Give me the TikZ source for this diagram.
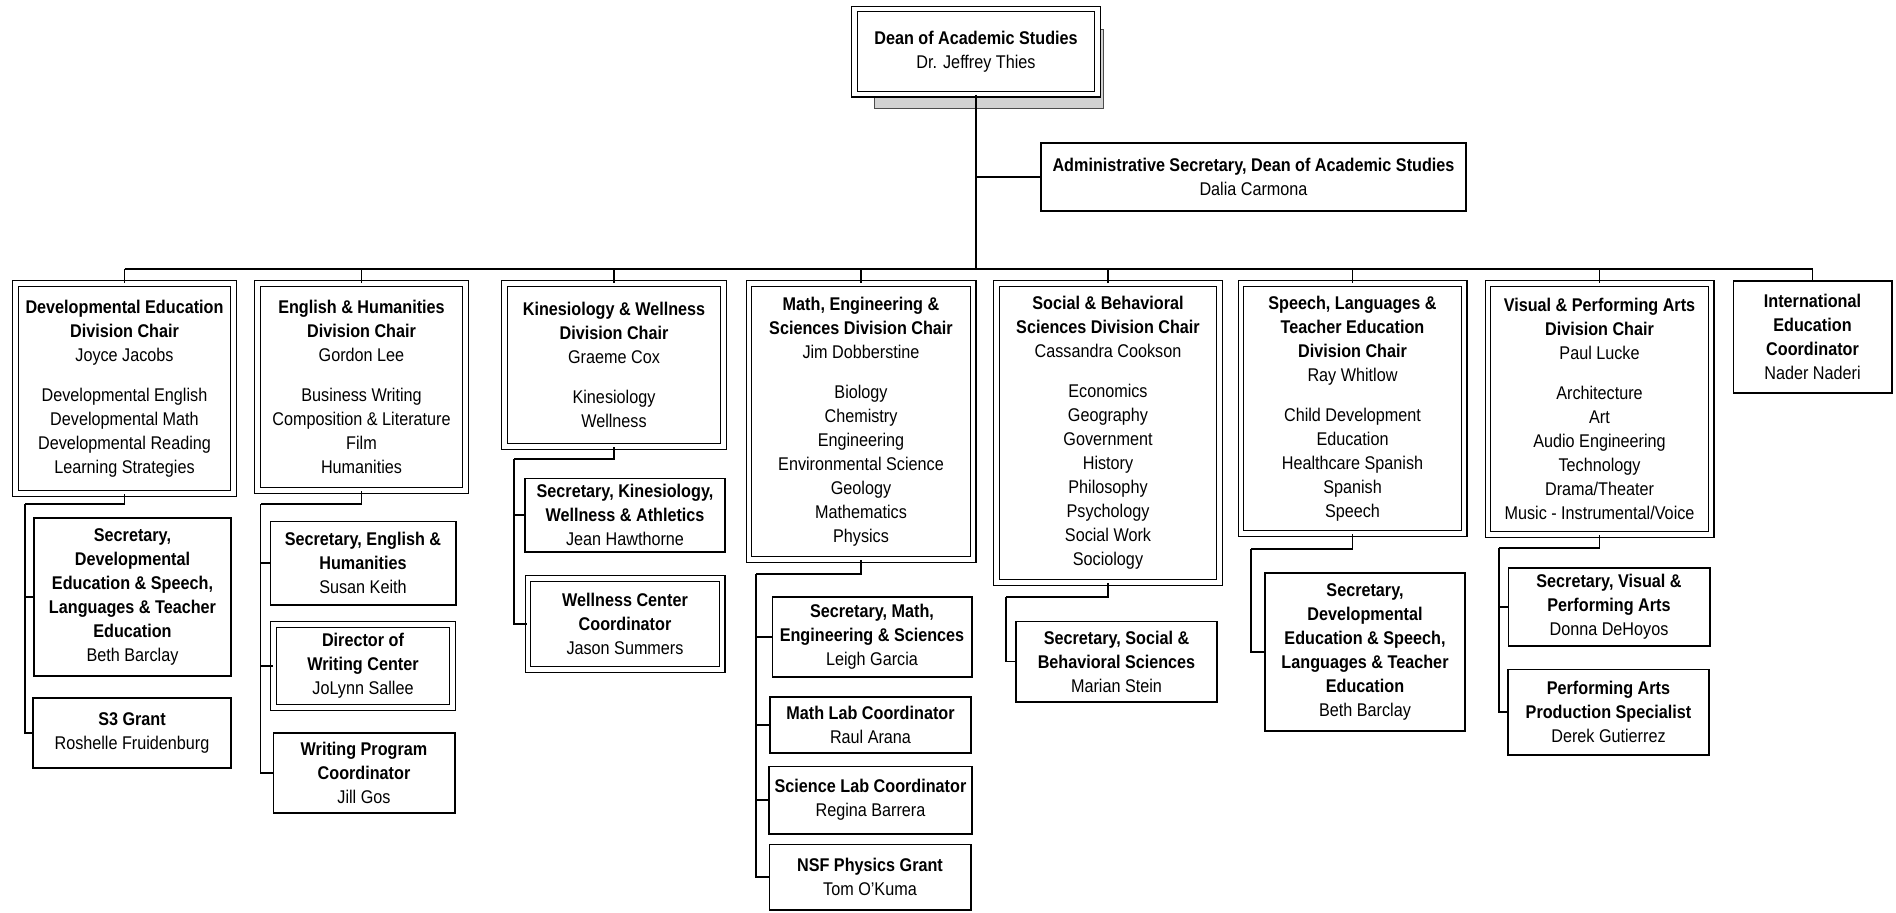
\documentclass[tikz,border=0pt]{standalone}
\usepackage{fontspec}
\setmainfont{Liberation Sans}[FakeStretch=0.88]
\usetikzlibrary{positioning,calc,backgrounds}

\tikzset{
  box/.style={draw, line width=0.8pt, align=center, inner sep=1pt, fill=white,
    font=\fontsize{9.2}{12}\selectfont},
  dbox/.style={box, line width=0.6pt, double, double distance=2.2pt},
  link/.style={line width=0.75pt},
}

\begin{document}
\begin{tikzpicture}[x=0.5pt, y=-0.5pt]
    \useasboundingbox (0,0) rectangle (1896,912);

    % Dean and his secretary
    \node[dbox, minimum width=121.6pt, minimum height=42.6pt] (dean) at (976,51.5)
        {\textbf{Dean of Academic Studies}\\Dr. Jeffrey Thies};
    \begin{scope}[on background layer]
        \filldraw[fill=gray!35, draw=black!70, line width=0.5pt]
            ($(dean.south west)+(21,14)$) rectangle ($(dean.north east)+(5,21)$);
    \end{scope}
    \node[box, minimum width=212.7pt, minimum height=34.2pt] (admin) at (1253.5,177)
        {\textbf{Administrative Secretary, Dean of Academic Studies}\\Dalia Carmona};

    % Division chairs
    \node[dbox, minimum width=109.1pt, minimum height=105.1pt] (dev) at (124.5,388.5)
        {\textbf{Developmental Education}\\\textbf{Division Chair}\\Joyce Jacobs\\[8pt]
         Developmental English\\Developmental Math\\Developmental Reading\\Learning Strategies};
    \node[dbox, minimum width=104.1pt, minimum height=103.6pt] (eng) at (361.5,387)
        {\textbf{English \& Humanities}\\\textbf{Division Chair}\\Gordon Lee\\[8pt]
         Business Writing\\Composition \& Literature\\Film\\Humanities};
    \node[dbox, minimum width=109.6pt, minimum height=81.6pt] (kin) at (614,365)
        {\textbf{Kinesiology \& Wellness}\\\textbf{Division Chair}\\Graeme Cox\\[8pt]
         Kinesiology\\Wellness};
    \node[dbox, minimum width=112.1pt, minimum height=138.1pt] (mes) at (861,421.5)
        {\textbf{Math, Engineering \&}\\\textbf{Sciences Division Chair}\\Jim Dobberstine\\[8pt]
         Biology\\Chemistry\\Engineering\\Environmental Science\\Geology\\Mathematics\\Physics};
    \node[dbox, minimum width=111.6pt, minimum height=149.6pt] (sbs) at (1108,433)
        {\textbf{Social \& Behavioral}\\\textbf{Sciences Division Chair}\\Cassandra Cookson\\[8pt]
         Economics\\Geography\\Government\\History\\Philosophy\\Psychology\\Social Work\\Sociology};
    \node[dbox, minimum width=111.6pt, minimum height=125.1pt] (slt) at (1352.5,408.5)
        {\textbf{Speech, Languages \&}\\\textbf{Teacher Education}\\\textbf{Division Chair}\\Ray Whitlow\\[8pt]
         Child Development\\Education\\Healthcare Spanish\\Spanish\\Speech};
    \node[dbox, minimum width=111.6pt, minimum height=125.6pt] (vpa) at (1599.5,409)
        {\textbf{Visual \& Performing Arts}\\\textbf{Division Chair}\\Paul Lucke\\[8pt]
         Architecture\\Art\\Audio Engineering\\Technology\\Drama/Theater\\Music - Instrumental/Voice};
    \node[box, minimum width=79.2pt, minimum height=56.2pt] (int) at (1812.5,337)
        {\textbf{International}\\\textbf{Education}\\\textbf{Coordinator}\\Nader Naderi};

    % Staff under each division
    \node[box, minimum width=98.7pt, minimum height=79.2pt] (dev-sec) at (132.5,597)
        {\textbf{Secretary,}\\\textbf{Developmental}\\\textbf{Education \& Speech,}\\\textbf{Languages \& Teacher}\\\textbf{Education}\\Beth Barclay};
    \node[box, minimum width=99.2pt, minimum height=35.2pt] (dev-s3) at (132,733)
        {\textbf{S3 Grant}\\Roshelle Fruidenburg};

    \node[box, minimum width=92.7pt, minimum height=41.7pt] (eng-sec) at (363,563)
        {\textbf{Secretary, English \&}\\\textbf{Humanities}\\Susan Keith};
    \node[dbox, minimum width=89.6pt, minimum height=41.6pt] (eng-dir) at (363,666)
        {\textbf{Director of}\\\textbf{Writing Center}\\JoLynn Sallee};
    \node[box, minimum width=90.7pt, minimum height=40.2pt] (eng-wpc) at (364,773)
        {\textbf{Writing Program}\\\textbf{Coordinator}\\Jill Gos};

    \node[box, minimum width=100.2pt, minimum height=36.7pt] (kin-sec) at (625,515)
        {\textbf{Secretary, Kinesiology,}\\\textbf{Wellness \& Athletics}\\Jean Hawthorne};
    \node[dbox, minimum width=97.1pt, minimum height=45.6pt] (kin-wcc) at (625,624)
        {\textbf{Wellness Center}\\\textbf{Coordinator}\\Jason Summers};

    \node[box, minimum width=99.7pt, minimum height=40.2pt] (mes-sec) at (872,637)
        {\textbf{Secretary, Math,}\\\textbf{Engineering \& Sciences}\\Leigh Garcia};
    \node[box, minimum width=100.7pt, minimum height=28.2pt] (mes-mlc) at (870.5,725)
        {\textbf{Math Lab Coordinator}\\Raul Arana};
    \node[box, minimum width=101.7pt, minimum height=33.7pt] (mes-slc) at (870.5,800)
        {\textbf{Science Lab Coordinator}\\Regina Barrera};
    \node[box, minimum width=100.7pt, minimum height=32.7pt] (mes-nsf) at (870,877)
        {\textbf{NSF Physics Grant}\\Tom O'Kuma};

    \node[box, minimum width=100.7pt, minimum height=40.2pt] (sbs-sec) at (1116.5,661.5)
        {\textbf{Secretary, Social \&}\\\textbf{Behavioral Sciences}\\Marian Stein};

    \node[box, minimum width=100.2pt, minimum height=79.2pt] (slt-sec) at (1365,652)
        {\textbf{Secretary,}\\\textbf{Developmental}\\\textbf{Education \& Speech,}\\\textbf{Languages \& Teacher}\\\textbf{Education}\\Beth Barclay};

    \node[box, minimum width=100.7pt, minimum height=39.2pt] (vpa-sec) at (1609,607)
        {\textbf{Secretary, Visual \&}\\\textbf{Performing Arts}\\Donna DeHoyos};
    \node[box, minimum width=100.7pt, minimum height=42.7pt] (vpa-pas) at (1608.5,712)
        {\textbf{Performing Arts}\\\textbf{Production Specialist}\\Derek Gutierrez};

    % Bus from the dean to the divisions
    \coordinate (bus) at (0,269);
    \draw[link] (dean.south) -- (dean.south |- bus);
    \draw[link] (admin.west) -- (admin.west -| dean.south);
    \draw[link] (dev.north |- bus) -- (int.north |- bus);
    \foreach \d in {dev,eng,kin,mes,sbs,slt,vpa,int}
        \draw[link] (\d.north) -- (\d.north |- bus);

    % Trunks down the left of each staff column
    \coordinate (dev-t) at (25,504);
    \coordinate (eng-t) at (260.5,504);
    \coordinate (kin-t) at (514,459);
    \coordinate (mes-t) at (756,574);
    \coordinate (sbs-t) at (1006,597);
    \coordinate (slt-t) at (1251,549);
    \coordinate (vpa-t) at (1499,548);
    \foreach \d in {dev,eng,kin,mes,sbs,slt,vpa}
        \draw[link] (\d.south) |- (\d-t);
    \foreach \d/\s in {dev/dev-sec, dev/dev-s3, eng/eng-sec, eng/eng-dir, eng/eng-wpc,
                       kin/kin-sec, kin/kin-wcc, mes/mes-sec, mes/mes-mlc, mes/mes-slc,
                       mes/mes-nsf, sbs/sbs-sec, slt/slt-sec, vpa/vpa-sec, vpa/vpa-pas}
        \draw[link] (\d-t) |- (\s);
\end{tikzpicture}
\end{document}
